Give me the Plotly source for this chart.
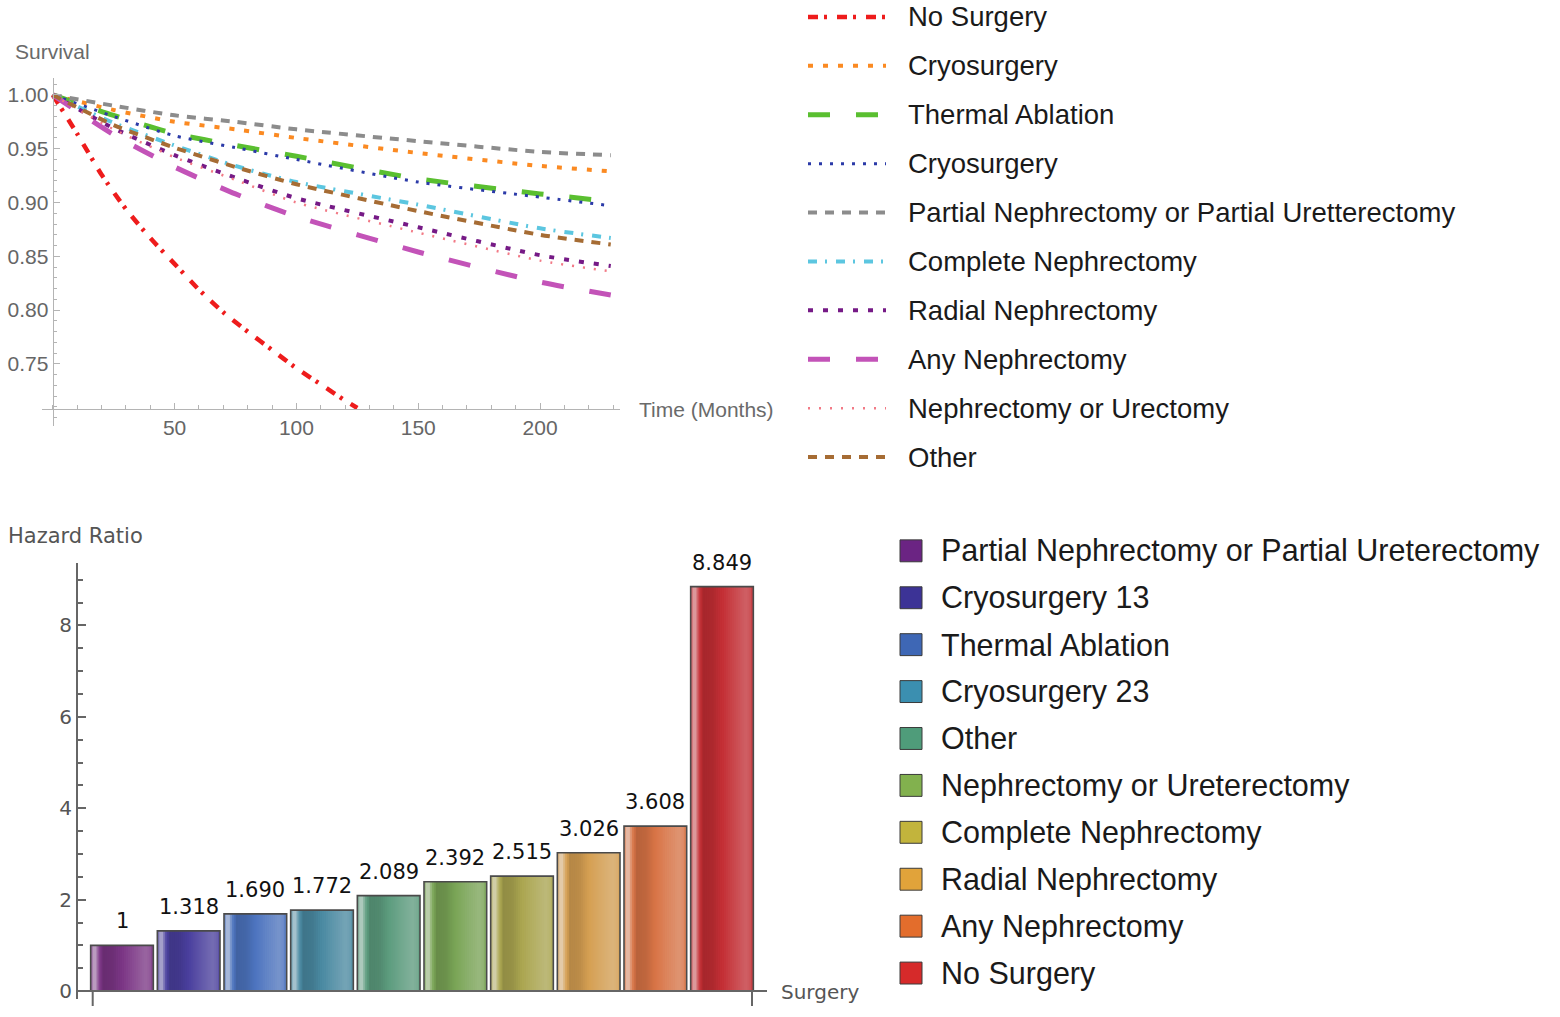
import plotly.graph_objects as go

W, H = 1560, 1017


def px(x):
    return x / W


def py(y):
    return 1 - y / H


# ---------------- Data: survival curves ----------------
months = [0, 25, 50, 75, 100, 150, 200, 229]
surv_cryo_a = [1.0, 0.986, 0.975, 0.968, 0.960, 0.946, 0.934, 0.929]
surv_thermal = [1.0, 0.981, 0.964, 0.953, 0.943, 0.922, 0.908, 0.901]
surv_cryo_b = [1.0, 0.980, 0.962, 0.951, 0.940, 0.919, 0.905, 0.897]
surv_partial = [1.0, 0.990, 0.981, 0.975, 0.968, 0.957, 0.947, 0.944]
surv_complete = [1.0, 0.974, 0.953, 0.934, 0.919, 0.898, 0.876, 0.867]
surv_radial = [1.0, 0.969, 0.944, 0.923, 0.904, 0.877, 0.851, 0.841]
surv_any = [1.0, 0.963, 0.933, 0.908, 0.887, 0.854, 0.826, 0.814]
surv_neph_ur = [1.0, 0.968, 0.942, 0.921, 0.900, 0.872, 0.846, 0.836]
surv_other = [1.0, 0.972, 0.951, 0.933, 0.917, 0.892, 0.870, 0.861]

months_nosurg = [0, 10, 20, 30, 40, 50, 60, 70, 80, 90, 100, 110, 120, 125]
surv_nosurg = [1.0, 0.964, 0.926, 0.894, 0.867, 0.843, 0.819, 0.798, 0.780,
               0.763, 0.746, 0.731, 0.716, 0.709]

curve_names = ["No Surgery", "Cryosurgery", "Thermal Ablation", "Cryosurgery",
               "Partial Nephrectomy or Partial Uretterectomy", "Complete Nephrectomy",
               "Radial Nephrectomy", "Any Nephrectomy", "Nephrectomy or Urectomy", "Other"]

x_ticks = [50, 100, 150, 200]
y_ticks = [0.75, 0.80, 0.85, 0.90, 0.95, 1.00]

# ---------------- Data: hazard ratios ----------------
surgery_types = ["Partial Nephrectomy or Partial Ureterectomy", "Cryosurgery 13",
                 "Thermal Ablation", "Cryosurgery 23", "Other",
                 "Nephrectomy or Ureterectomy", "Complete Nephrectomy",
                 "Radial Nephrectomy", "Any Nephrectomy", "No Surgery"]
hazard_ratios = [1, 1.318, 1.690, 1.772, 2.089, 2.392, 2.515, 3.026, 3.608, 8.849]
hr_labels = ["1", "1.318", "1.690", "1.772", "2.089", "2.392", "2.515", "3.026", "3.608", "8.849"]
hr_ticks = [0, 2, 4, 6, 8]

# ---------------- Styles ----------------
curve_styles = [
    # color, dash, width
    ("#ee1c1c", "10px,6px,3px,10px", 4.5),
    ("#fb8a22", "5px,10px", 4),
    ("#5abf30", "22px,26px", 5),
    ("#2b3aa8", "3px,8px", 3),
    ("#8c8c8c", "9px,8px", 4),
    ("#5cc6e0", "9px,8px,2px,9px", 4),
    ("#761a86", "5px,10px", 4),
    ("#c353b8", "22px,26px", 5),
    ("#f27a86", "2px,9px", 2.5),
    ("#a66c34", "9px,8px", 4),
]
curve_data = [
    (months_nosurg, surv_nosurg), (months, surv_cryo_a), (months, surv_thermal),
    (months, surv_cryo_b), (months, surv_partial), (months, surv_complete),
    (months, surv_radial), (months, surv_any), (months, surv_neph_ur), (months, surv_other),
]

bar_base = ["#7b3585", "#4a3f9e", "#4d74bf", "#4a8aa2", "#5c9c7e",
            "#7aa556", "#aba650", "#d59f52", "#d97446", "#c42e34"]
legend_sq = ["#6b2483", "#3c3396", "#3e67b5", "#3b8fb0", "#4f9c7a",
             "#82b14e", "#c2b43c", "#e1a33a", "#e36d2c", "#d62a2a"]

SANS = "Liberation Sans, Arial, sans-serif"
DEJAVU = "DejaVu Sans, sans-serif"


def hex2rgb(h):
    h = h.lstrip("#")
    return [int(h[i:i + 2], 16) for i in (0, 2, 4)]


def blend(h, a):
    r = hex2rgb(h)
    if a >= 0:
        out = [c + (238 - c) * a for c in r]
    else:
        out = [c * (1 + a) for c in r]
    return "rgb(%d,%d,%d)" % tuple(int(round(v)) for v in out)


# shading profile across a bar (fraction of width -> lighten(+)/darken(-))
shade_profile = [(0.0, 0.15), (0.04, 0.55), (0.08, 0.55), (0.13, 0.1), (0.2, -0.15),
                 (0.35, -0.12), (0.5, 0.0), (0.7, 0.14), (0.88, 0.26), (0.95, 0.2), (1.0, 0.05)]


def shade_at(u):
    for (u0, a0), (u1, a1) in zip(shade_profile[:-1], shade_profile[1:]):
        if u0 <= u <= u1:
            return a0 + (a1 - a0) * (u - u0) / (u1 - u0)
    return 0.0


fig = go.Figure()

# ---------------- Survival curves ----------------
for name, (xs, ys), (col, dash, wid) in zip(curve_names, curve_data, curve_styles):
    fig.add_trace(go.Scatter(x=xs, y=ys, mode="lines", name=name,
                             line=dict(color=col, dash=dash, width=wid, shape="spline", smoothing=0.6),
                             xaxis="x", yaxis="y", showlegend=False))

# ---------------- Bars with cylinder shading ----------------
BW = 0.94
left = -BW / 2
NSTRIPE = 32
for k in range(NSTRIPE):
    u0 = k / NSTRIPE
    a = shade_at((k + 0.5) / NSTRIPE)
    fig.add_trace(go.Bar(x=surgery_types, y=hazard_ratios, xaxis="x2", yaxis="y2",
                         width=BW / NSTRIPE + 0.012 if k < NSTRIPE - 1 else BW / NSTRIPE,
                         offset=left + u0 * BW,
                         marker=dict(color=[blend(c, a) for c in bar_base], line=dict(width=0)),
                         showlegend=False, hoverinfo="skip"))
fig.add_trace(go.Bar(x=surgery_types, y=hazard_ratios, xaxis="x2", yaxis="y2",
                     width=BW, offset=left, name="Hazard Ratio",
                     marker=dict(color="rgba(0,0,0,0)", line=dict(color="#4a4a4a", width=1.6)),
                     showlegend=False))

annotations = []
for s, v, lab in zip(surgery_types, hazard_ratios, hr_labels):
    annotations.append(dict(x=s, y=v, xref="x2", yref="y2", text=lab, showarrow=False,
                            yshift=24, font=dict(family=DEJAVU, size=21, color="#111")))

# Axis titles
annotations += [
    dict(x=px(13), y=py(52), xref="paper", yref="paper", text="Survival", showarrow=False,
         xanchor="left", yanchor="middle", font=dict(family=SANS, size=21, color="#6a6a6a")),
    dict(x=px(637), y=py(411), xref="paper", yref="paper", text="Time (Months)", showarrow=False,
         xanchor="left", yanchor="middle", font=dict(family=SANS, size=21, color="#6a6a6a")),
    dict(x=px(6), y=py(538), xref="paper", yref="paper", text="Hazard Ratio", showarrow=False,
         xanchor="left", yanchor="middle", font=dict(family=DEJAVU, size=21, color="#555")),
    dict(x=px(779), y=py(996), xref="paper", yref="paper", text="Surgery", showarrow=False,
         xanchor="left", yanchor="middle", font=dict(family=DEJAVU, size=20, color="#555")),
]

shapes = []
# Top legend
for i, (name, (col, dash, wid)) in enumerate(zip(curve_names, curve_styles)):
    yy = 17 + i * 49.1
    shapes.append(dict(type="line", xref="paper", yref="paper", x0=px(808), x1=px(886),
                       y0=py(yy), y1=py(yy), line=dict(color=col, dash=dash, width=wid)))
    annotations.append(dict(x=px(906), y=py(yy), xref="paper", yref="paper", text=name,
                            showarrow=False, xanchor="left", yanchor="middle",
                            font=dict(family=SANS, size=27.5, color="#1a1a1a")))

# Bottom legend
for i, (name, col) in enumerate(zip(surgery_types, legend_sq)):
    yy = 553 + i * 47.1
    shapes.append(dict(type="rect", xref="paper", yref="paper", x0=px(900), x1=px(922),
                       y0=py(yy + 11), y1=py(yy - 11), fillcolor=col,
                       line=dict(color="#3a3a3a", width=1)))
    annotations.append(dict(x=px(939), y=py(yy), xref="paper", yref="paper", text=name,
                            showarrow=False, xanchor="left", yanchor="middle",
                            font=dict(family=SANS, size=30.5, color="#1a1a1a")))

# small end ticks on the bar x axis
for xx in (92.7, 752):
    shapes.append(dict(type="line", xref="paper", yref="paper", x0=px(xx), x1=px(xx),
                       y0=py(995), y1=py(1010), line=dict(color="#666", width=2)))

fig.update_layout(
    width=W, height=H, margin=dict(l=0, r=0, t=0, b=0),
    paper_bgcolor="white", plot_bgcolor="rgba(0,0,0,0)",
    showlegend=False, barmode="overlay",
    annotations=annotations, shapes=shapes,
    xaxis=dict(domain=[px(42), px(620)], range=[-4.4, 232.8], anchor="free", position=py(410.5),
               showline=True, linecolor="#b4b4b4", linewidth=1.3, showgrid=False, zeroline=False,
               tickmode="array", tickvals=x_ticks, ticks="inside", ticklen=6, tickcolor="#b4b4b4",
               tickwidth=1.2,
               minor=dict(tickmode="linear", tick0=0, dtick=10, ticks="inside", ticklen=3.5,
                          tickcolor="#b4b4b4", showgrid=False),
               tickfont=dict(family=SANS, size=21, color="#666")),
    yaxis=dict(domain=[py(428), py(78)], range=[0.692, 1.016], anchor="free", position=px(52.7),
               showline=True, linecolor="#b4b4b4", linewidth=1.3, showgrid=False, zeroline=False,
               tickmode="array", tickvals=y_ticks, tickformat=".2f", ticks="inside", ticklen=6,
               tickcolor="#b4b4b4", tickwidth=1.2,
               minor=dict(tickmode="linear", tick0=0, dtick=0.01, ticks="inside", ticklen=3.5,
                          tickcolor="#b4b4b4", showgrid=False),
               tickfont=dict(family=SANS, size=21, color="#666")),
    xaxis2=dict(domain=[px(78), px(767)], range=[-0.66, 9.675], anchor="free", position=py(995),
                type="category", showline=True, linecolor="#666", linewidth=2, showgrid=False,
                zeroline=False, showticklabels=False, ticks=""),
    yaxis2=dict(domain=[py(1003), py(565)], range=[-0.174, 9.37], anchor="x2",
                showline=True, linecolor="#666", linewidth=2, showgrid=False, zeroline=False,
                tickmode="array", tickvals=hr_ticks, ticks="inside", ticklen=8, tickcolor="#666",
                tickwidth=1.5,
                minor=dict(tickmode="linear", tick0=0, dtick=0.5, ticks="inside", ticklen=5,
                           tickcolor="#666", showgrid=False),
                tickfont=dict(family=DEJAVU, size=20, color="#555")),
)

fig.write_html("out.html", config={"displayModeBar": False},
               post_script="document.body.style.margin='0';document.body.style.overflow='hidden';")
